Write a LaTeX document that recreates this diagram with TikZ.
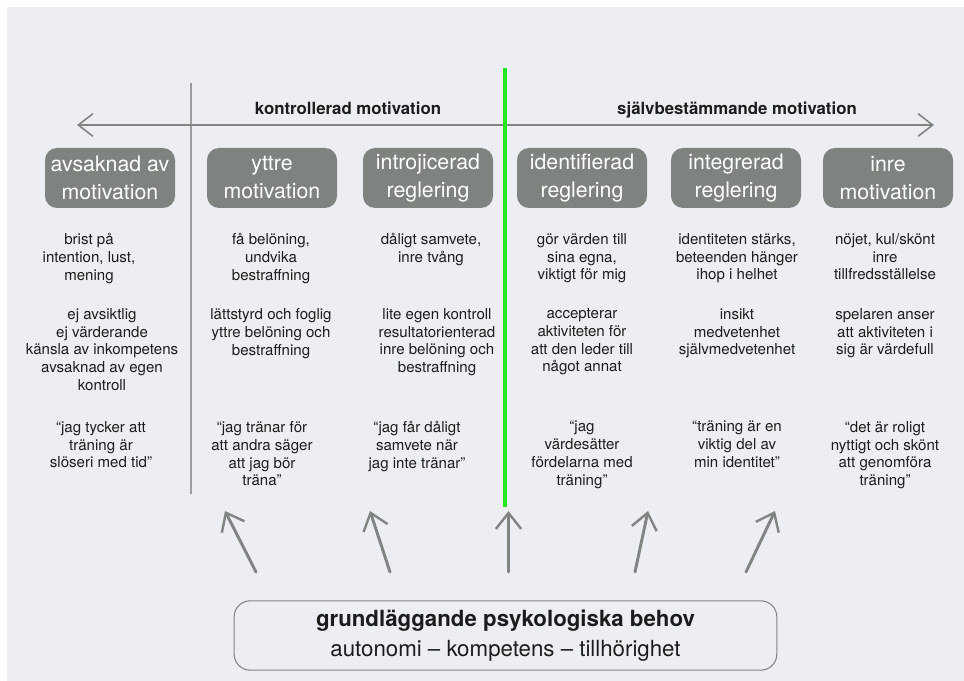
\documentclass[tikz,border=0pt]{standalone}
\usepackage{fontspec}
\setmainfont{TeX Gyre Heros}
\usetikzlibrary{arrows.meta}

\definecolor{bgcol}{RGB}{237,238,242}
\definecolor{boxgray}{RGB}{126,131,128}
\definecolor{arrowgray}{RGB}{128,133,130}
\definecolor{divgray}{RGB}{155,156,158}
\definecolor{splitgreen}{RGB}{38,232,30}
\definecolor{txt}{RGB}{28,28,28}

\tikzset{
  stage/.style={rectangle, rounded corners=9pt, fill=boxgray, text=white,
    minimum width=97.5pt, minimum height=45pt, inner sep=0pt, align=center,
    font=\fontsize{16}{21}\selectfont},
  desc/.style={anchor=north, align=center, inner sep=0pt, text=txt,
    font=\fontsize{11.3}{13.4}\selectfont},
  heading/.style={anchor=base, inner sep=0pt, text=txt,
    font=\fontsize{12.6}{15}\selectfont\bfseries},
  axisarrow/.style={arrowgray, line width=1.6pt,
    {Straight Barb[length=11pt, width=17pt, line width=1.2pt]}-{Straight Barb[length=11pt, width=17pt, line width=1.2pt]}},
  needarrow/.style={arrowgray, line width=2.2pt, line cap=round,
    -{Straight Barb[length=12pt, width=19pt, line width=1.8pt]}},
}

\begin{document}
\begin{tikzpicture}[x=0.75pt, y=-0.75pt]
  \useasboundingbox (0,0) rectangle (964,681);
  \fill[white] (0,0) rectangle (964,681);
  \fill[bgcol] (7,7) rectangle (964,681);

  % divider lines
  \coordinate (divtop) at (191,83);
  \coordinate (divbot) at (191,494);
  \draw[divgray, line width=1.2pt] (divtop) -- (divbot);

  % main axis
  \coordinate (axisleft) at (77,125);
  \coordinate (axisright) at (934,125);
  \draw[axisarrow] (axisleft) -- (axisright);

  \node[heading] (kontroll) at (348,115) {kontrollerad motivation};
  \node[heading] (sjalvbest) at (737,115) {självbestämmande motivation};

  % stages
  \node[stage] (avsaknad) at (110,178) {avsaknad av\\motivation};
  \node[stage] (yttre)    at (272,178) {yttre\\motivation};
  \node[stage] (introj)   at (428,178) {introjicerad\\reglering};
  \node[stage] (identif)  at (582,178) {identifierad\\reglering};
  \node[stage] (integr)   at (736,178) {integrerad\\reglering};
  \node[stage] (inre)     at (888,178) {inre\\motivation};

  % first row
  \node[desc] (avsA) at (89,233)  {brist på\\intention, lust,\\mening};
  \node[desc] (ytA)  at (271,233) {få belöning,\\undvika\\bestraffning};
  \node[desc] (inA)  at (431,233) {dåligt samvete,\\inre tvång};
  \node[desc] (idA)  at (582,233) {gör värden till\\sina egna,\\viktigt för mig};
  \node[desc] (igA)  at (737,233) {identiteten stärks,\\beteenden hänger\\ihop i helhet};
  \node[desc] (irA)  at (885,233) {nöjet, kul/skönt\\inre\\tillfredsställelse};

  % second row
  \node[desc] (avsB) at (102,308) {ej avsiktlig\\ej värderande\\känsla av inkompetens\\avsaknad av egen\\kontroll};
  \node[desc] (ytB)  at (271,308) {lättstyrd och foglig\\yttre belöning och\\bestraffning};
  \node[desc] (inB)  at (437,308) {lite egen kontroll\\resultatorienterad\\inre belöning och\\bestraffning};
  \node[desc] (idB)  at (582,308) {accepterar\\aktiviteten för\\att den leder till\\något annat};
  \node[desc] (igB)  at (737,308) {insikt\\medvetenhet\\självmedvetenhet};
  \node[desc] (irB)  at (885,308) {spelaren anser\\att aktiviteten i\\sig är värdefull};

  % third row
  \node[desc] (avsC) at (101,421) {“jag tycker att\\träning är\\slöseri med tid”};
  \node[desc] (ytC)  at (262,421) {“jag tränar för\\att andra säger\\att jag bör\\träna”};
  \node[desc] (inC)  at (417,421) {“jag får dåligt\\samvete när\\jag inte tränar”};
  \node[desc] (idC)  at (582,421) {“jag\\värdesätter\\fördelarna med\\träning”};
  \node[desc] (igC)  at (737,421) {“träning är en\\viktig del av\\min identitet”};
  \node[desc] (irC)  at (885,421) {“det är roligt\\nyttigt och skönt\\att genomföra\\träning”};

  % green split
  \coordinate (splittop) at (505,68);
  \coordinate (splitbot) at (505,507);
  \draw[splitgreen, line width=3.6pt] (splittop) -- (splitbot);

  % basic needs
  \node[draw=arrowgray, line width=0.8pt, rounded corners=12pt, minimum width=407pt,
        minimum height=52pt, align=center, text=txt,
        font=\fontsize{16.7}{23}\selectfont] (behov) at (505.5,635.5)
        {\textbf{grundläggande psykologiska behov}\\autonomi – kompetens – tillhörighet};

  \foreach \tx/\hx [count=\i] in {256/225, 390/370, 508.5/508.5, 635/648, 746/775}
  {
    \coordinate (tail\i) at (\tx,572);
    \coordinate (head\i) at (\hx,511);
    \draw[needarrow] (tail\i) -- (head\i);
  }
\end{tikzpicture}
\end{document}
